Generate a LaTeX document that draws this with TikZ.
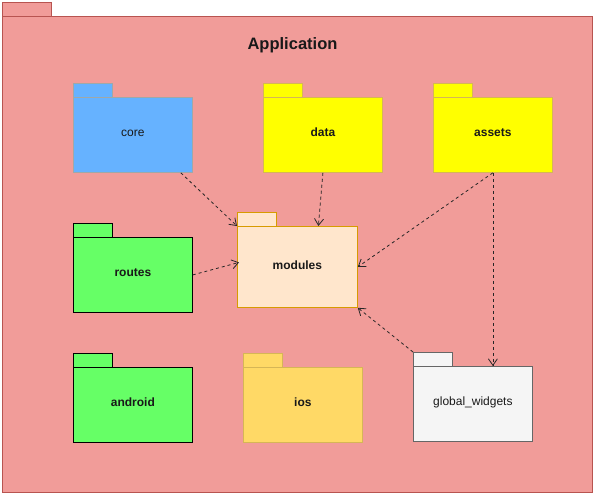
\documentclass[tikz,border=0pt]{standalone}
\usepackage{fontspec}
\setmainfont{Liberation Sans}
\usetikzlibrary{arrows.meta}
\definecolor{appfill}{HTML}{F19C99}
\definecolor{appline}{HTML}{B85450}
\definecolor{corefill}{HTML}{66B2FF}
\definecolor{coreline}{HTML}{A0A8A8}
\definecolor{yelfill}{HTML}{FFFF00}
\definecolor{yelline}{HTML}{D6B656}
\definecolor{modfill}{HTML}{FFE6CC}
\definecolor{modline}{HTML}{D79B00}
\definecolor{grnfill}{HTML}{66FF66}
\definecolor{iosfill}{HTML}{FFD966}
\definecolor{gwfill}{HTML}{F5F5F5}
\definecolor{gwline}{HTML}{666666}
\tikzset{
  pkgbody/.style={rectangle, inner sep=0pt, line width=0.8pt, anchor=north west},
  pkgtab/.style={rectangle, inner sep=0pt, line width=0.8pt, anchor=north west, minimum width=39pt, minimum height=14pt},
  pkglabel/.style={anchor=base, inner sep=0pt, font=\fontsize{12}{14}\selectfont\bfseries, text=black!90},
  pkglabelreg/.style={anchor=base, inner sep=0pt, font=\fontsize{12}{14}\selectfont, text=black!90},
  dep/.style={draw=black!85, line width=0.8pt, dash pattern=on 3pt off 3pt, -{Straight Barb[length=6.5pt,width=9pt]}}
}
% \mypkg{name}{x}{y}{fill}{draw}  (x,y = top-left of tab)
\newcommand{\mypkg}[5]{%
  \node[pkgtab, fill=#4, draw=#5] (#1tab) at (#2,#3) {};
  \node[pkgbody, fill=#4, draw=#5, minimum width=119pt, minimum height=75pt] (#1) at (#2,#3+14) {};
}
\begin{document}
\begin{tikzpicture}[x=1pt,y=-1pt]
\useasboundingbox (0,0) rectangle (595,495);
% outer application package
\node[pkgtab, fill=appfill, draw=appline, minimum width=49pt] (apptab) at (2,2) {};
\node[pkgbody, fill=appfill, draw=appline, minimum width=590pt, minimum height=476pt] (app) at (2,16) {};
\node[anchor=base, inner sep=0pt, font=\fontsize{16.5}{18}\selectfont\bfseries, text=black!90] (apptitle) at (292.5,49.5) {Application};

\mypkg{core}{73}{83}{corefill}{coreline}
\mypkg{data}{263}{83}{yelfill}{yelline}
\mypkg{assets}{433}{83}{yelfill}{yelline}
\node[pkgtab, fill=modfill, draw=modline] (modulestab) at (237,212) {};
\node[pkgbody, fill=modfill, draw=modline, minimum width=120pt, minimum height=81pt] (modules) at (237,226) {};
\mypkg{routes}{73}{223}{grnfill}{black}
\mypkg{android}{73}{353}{grnfill}{black}
\mypkg{ios}{243}{353}{iosfill}{yelline}
\mypkg{gw}{413}{352}{gwfill}{gwline}

\node[pkglabelreg] (corel) at ([yshift=-1.5pt]core.center) {core};
\node[pkglabel] (datal) at ([yshift=-1.5pt]data.center) {data};
\node[pkglabel] (assetsl) at ([yshift=-1.5pt]assets.center) {assets};
\node[pkglabel] (modulesl) at ([yshift=-2.5pt]modules.center) {modules};
\node[pkglabel] (routesl) at ([yshift=-1.5pt]routes.center) {routes};
\node[pkglabel] (androidl) at ([yshift=-1.5pt]android.center) {android};
\node[pkglabel] (iosl) at ([yshift=-1.5pt]ios.center) {ios};
\node[pkglabelreg] (gwl) at ([yshift=-1.5pt]gw.center) {global\_widgets};

% dependencies
\draw[dep] ([xshift=-12pt]core.south east) -- (modules.north west);
\draw[dep] (data.south) -- ([xshift=21pt]modules.north);
\draw[dep] (assets.south) -- (modules.east);
\draw[dep] (assets.south) -- (assets.south |- gw.north);
\draw[dep] (routes.east) -- ([xshift=2pt,yshift=4.5pt]modules.west);
\draw[dep] (gwtab.north west) -- (modules.south east);
\end{tikzpicture}
\end{document}
